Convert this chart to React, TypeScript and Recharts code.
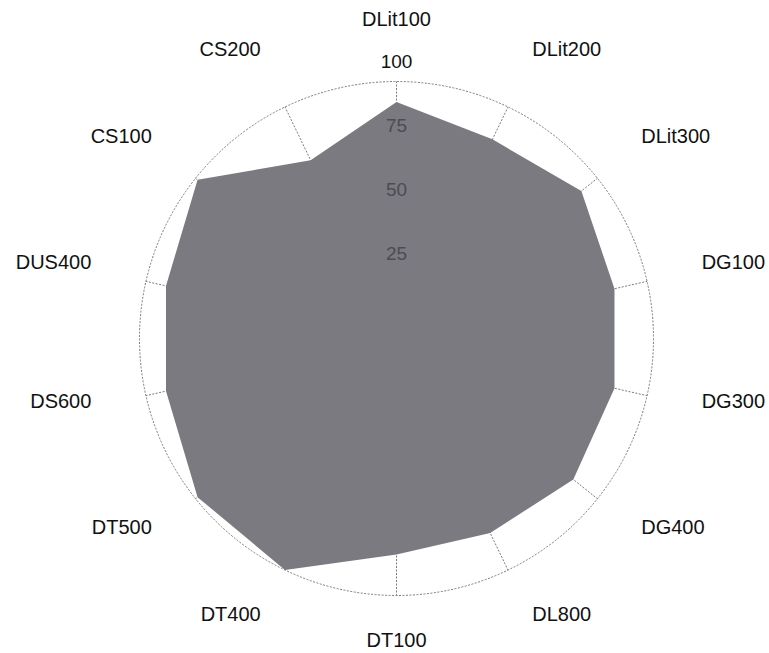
import React from 'react';
import { RadarChart, Radar, PolarGrid, PolarAngleAxis, PolarRadiusAxis } from 'recharts';

const categories = ['DLit100', 'DLit200', 'DLit300', 'DG100', 'DG300', 'DG400', 'DL800', 'DT100', 'DT400', 'DT500', 'DS600', 'DUS400', 'CS100', 'CS200'];
const values = [92, 86, 92, 87, 87, 88, 84, 84, 100, 99, 92, 92, 99, 77];
const radiusTicks = [25, 50, 75, 100];

const data = categories.map((c, i) => ({ name: c, value: values[i] }));

const W = 769;
const H = 653;
const CX = 396.5;
const CY = 338.5;
const R = 257;
const FONT = '"Liberation Sans", Arial, sans-serif';

const AngleTick = (props: any) => {
  const { payload } = props;
  const a = (payload.coordinate * Math.PI) / 180;
  const cos = Math.cos(a);
  const sin = Math.sin(a);
  const rl = 313;
  const x = CX + rl * cos;
  const y = Math.min(CY - rl * sin - 7, H - 13);
  const anchor = cos > 0.01 ? 'start' : cos < -0.01 ? 'end' : 'middle';
  return (
    <text x={x} y={y} textAnchor={anchor} dominantBaseline="central" fontSize={20} fontFamily={FONT} fill="#111">
      {payload.value}
    </text>
  );
};

const RadiusTick = (props: any) => {
  const { x, y, payload } = props;
  const isMax = payload.value === 100;
  return (
    <text x={x} y={y - 20.5} textAnchor="middle" dominantBaseline="central" fontSize={19} fontFamily={FONT} fill={isMax ? '#111' : '#4c4c54'}>
      {payload.value}
    </text>
  );
};

export default function App() {
  return (
    <div style={{ position: 'absolute', left: 0, top: 0, width: W, height: H, background: '#fff' }}>
      <RadarChart width={W} height={H} data={data} cx={CX} cy={CY} outerRadius={R} startAngle={90} endAngle={-270} margin={{ top: 0, right: 0, bottom: 0, left: 0 }}>
        <PolarGrid gridType="circle" polarRadius={[R]} stroke="#7a7a7a" strokeDasharray="2 1.5" />
        <PolarAngleAxis dataKey="name" axisLine={false} tickLine={false} tick={<AngleTick />} />
        <Radar dataKey="value" fill="#7a7a80" fillOpacity={1} stroke="none" isAnimationActive={false} />
        <PolarRadiusAxis angle={90} domain={[0, 100]} ticks={radiusTicks} axisLine={false} tickLine={false} tick={<RadiusTick />} />
      </RadarChart>
    </div>
  );
}
